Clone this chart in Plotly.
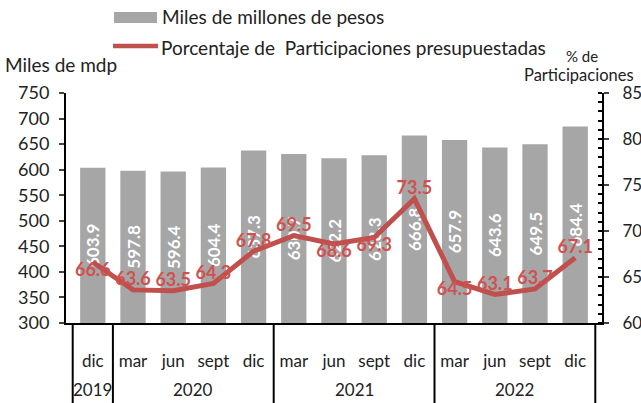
import plotly.graph_objects as go

years = ["2019", "2020", "2020", "2020", "2020", "2021", "2021", "2021", "2021",
         "2022", "2022", "2022", "2022"]
months = ["dic", "mar", "jun", "sept", "dic", "mar", "jun", "sept", "dic",
          "mar", "jun", "sept", "dic"]
miles_mdp = [603.9, 597.8, 596.4, 604.4, 637.3, 630.7, 622.2, 628.3, 666.8,
             657.9, 643.6, 649.5, 684.4]
pct_part = [66.6, 63.6, 63.5, 64.3, 67.8, 69.5, 68.6, 69.3, 73.5,
            64.5, 63.1, 63.7, 67.1]
pct_label_pos = ["bottom center", "top center", "top center", "top center",
                 "top center", "top center", "bottom center", "bottom center",
                 "top center", "bottom center", "top center", "top center",
                 "top center"]

BASE = 300  # axis floor; bars drawn from here so inside labels sit mid-bar

FONT = "Lato, 'Open Sans', sans-serif"
BAR_C = "#a6a6a6"
LINE_C = "#c0504d"
LBL_C = "#cf5250"

W, H = 641, 403
L, R, T, B = 66, 39, 93, 80
PW, PH = W - L - R, H - T - B


def px(xp):
    return (xp - L) / PW


def py(yp):
    return (H - B - yp) / PH


# unique category keys (month + year); tick text shows the month only
cats = [f"{m} {y}" for m, y in zip(months, years)]

# year groups: boundaries and centres derived from the year list
groups = []
for i, y in enumerate(years):
    if not groups or groups[-1][0] != y:
        groups.append([y, i, i])
    else:
        groups[-1][2] = i
bounds = [g[1] - 0.5 for g in groups] + [groups[-1][2] + 0.5]

fig = go.Figure()
fig.add_trace(go.Bar(
    x=cats, y=[v - BASE for v in miles_mdp], base=BASE,
    name="Miles de millones de pesos",
    marker=dict(color=BAR_C, line=dict(width=0)),
    text=[f"{v:.1f}" for v in miles_mdp], textposition="inside",
    insidetextanchor="middle", textangle=-90, constraintext="none",
    textfont=dict(color="white", size=17, family=FONT, weight="bold"),
    showlegend=False, hovertext=[f"{v:.1f}" for v in miles_mdp],
    hoverinfo="text",
))
fig.add_trace(go.Scatter(
    x=cats, y=pct_part, yaxis="y2", mode="lines+text",
    name="Porcentaje de  Participaciones presupuestadas",
    line=dict(color=LINE_C, width=5),
    text=[f"{v:.1f}" for v in pct_part], textposition=pct_label_pos,
    textfont=dict(color=LBL_C, size=18, family=FONT, weight="bold"),
    showlegend=False, cliponaxis=False,
))

shapes = [
    dict(type="rect", xref="paper", yref="paper", x0=px(114), x1=px(157),
         y0=py(23), y1=py(12), fillcolor=BAR_C, line=dict(width=0)),
    dict(type="line", xref="paper", yref="paper", x0=px(113), x1=px(158),
         y0=py(46), y1=py(46), line=dict(color=LINE_C, width=4.5)),
]
for b in bounds:
    shapes.append(dict(type="line", xref="x", yref="paper", x0=b, x1=b,
                       y0=0, y1=py(H), line=dict(color="black", width=2)))

annotations = [
    dict(text="Miles de millones de pesos", xref="paper", yref="paper",
         x=px(160), y=py(17), xanchor="left", yanchor="middle",
         showarrow=False, font=dict(size=19)),
    dict(text="Porcentaje de  Participaciones presupuestadas", xref="paper",
         yref="paper", x=px(159), y=py(47), xanchor="left",
         yanchor="middle", showarrow=False, font=dict(size=19)),
    dict(text="Miles de mdp", xref="paper", yref="paper", x=px(3),
         y=py(64), xanchor="left", yanchor="middle", showarrow=False,
         font=dict(size=19)),
    dict(text="% de", xref="paper", yref="paper", x=px(582), y=py(56),
         xanchor="center", yanchor="middle", showarrow=False,
         font=dict(size=15)),
    dict(text="Participaciones", xref="paper", yref="paper", x=px(522),
         y=py(75), xanchor="left", yanchor="middle", showarrow=False,
         font=dict(size=16.5)),
]
for y, i0, i1 in groups:
    annotations.append(dict(text=y, xref="x", yref="paper", x=(i0 + i1) / 2,
                            y=py(390), xanchor="center", yanchor="middle",
                            showarrow=False, font=dict(size=17)))

fig.update_layout(
    width=W, height=H, margin=dict(l=L, r=R, t=T, b=B, autoexpand=False),
    paper_bgcolor="white", plot_bgcolor="white",
    font=dict(family=FONT, size=17, color="#222222"),
    bargap=0.37,
    xaxis=dict(type="category", showline=True, linecolor="black",
               linewidth=2, ticks="", showgrid=False, automargin=False,
               tickangle=0, tickvals=cats, ticktext=months,
               ticklabelstandoff=22, tickfont=dict(size=17)),
    yaxis=dict(range=[300, 750], dtick=50, showgrid=False, showline=True,
               linecolor="black", linewidth=2, ticks="outside", ticklen=5,
               tickwidth=2, zeroline=False, ticklabelstandoff=6,
               automargin=False, tickfont=dict(size=18)),
    yaxis2=dict(range=[60, 85], dtick=5, overlaying="y", side="right",
                showgrid=False, showline=True, linecolor="black", linewidth=2,
                ticks="outside", ticklen=5, tickwidth=2, zeroline=False,
                ticklabelstandoff=10, tickfont=dict(size=17),
                automargin=False,
                minor=dict(dtick=1, ticks="inside", ticklen=4, tickwidth=1.5,
                           tickcolor="black")),
    shapes=shapes,
    annotations=annotations,
)

fig.write_html("out.html", config=dict(displayModeBar=False),
               post_script="document.body.style.margin='0';"
                           "document.body.style.overflow='hidden';")
